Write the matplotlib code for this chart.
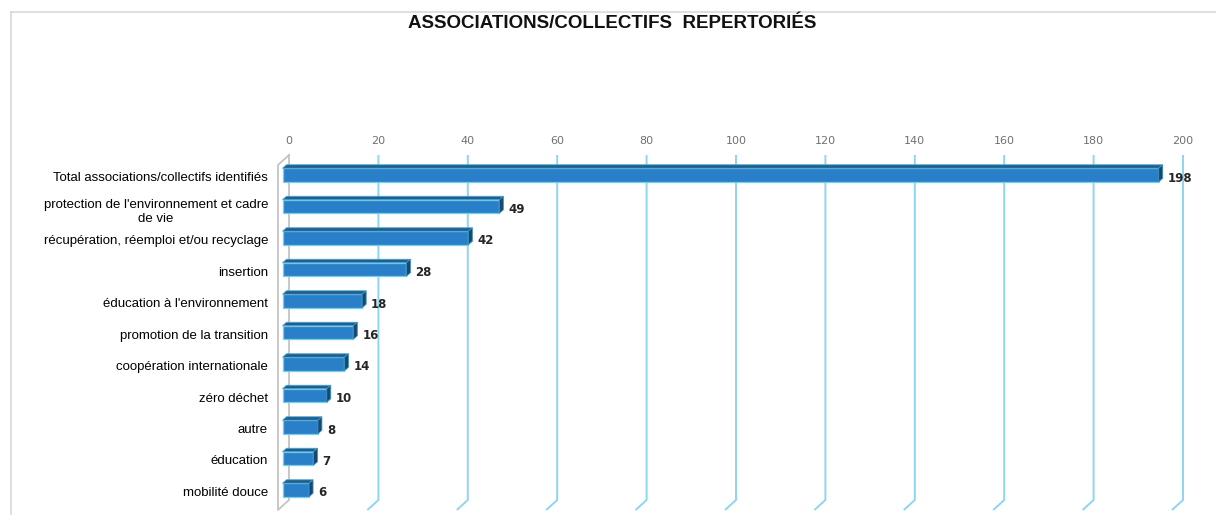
import numpy as np
import matplotlib
matplotlib.use('Agg')
import matplotlib.pyplot as plt
from matplotlib.patches import Polygon
from matplotlib.lines import Line2D

categories = [
    'Total associations/collectifs identifiés',
    "protection de l'environnement et cadre\nde vie",
    'récupération, réemploi et/ou recyclage',
    'insertion',
    "éducation à l'environnement",
    'promotion de la transition',
    'coopération internationale',
    'zéro déchet',
    'autre',
    'éducation',
    'mobilité douce',
]
values = [198, 49, 42, 28, 18, 16, 14, 10, 8, 7, 6]
ticks = np.arange(0, 201, 20)
title = 'ASSOCIATIONS/COLLECTIFS  REPERTORIÉS'

W, H = 1216, 515
PX = 4.47      # pixels per unit on the back plane
X0 = 289       # pixel x of value 0

def px(d):
    return d / PX

fig = plt.figure(figsize=(W / 100, H / 100), dpi=100)
ax = fig.add_axes([0, 0, 1, 1])
ax.set_xlim(-X0 / PX, (W - X0) / PX)
ax.set_ylim(H, 0)
ax.axis('off')

# chart border (top / left)
fig.add_artist(Line2D([11 / W, 1], [1 - 12 / H, 1 - 12 / H],
                      transform=fig.transFigure, color='#d9d9d9', lw=1.2))
fig.add_artist(Line2D([11 / W, 11 / W], [1 - 12 / H, 0],
                      transform=fig.transFigure, color='#d9d9d9', lw=1.2))

fig.text(612.5 / W, 1 - 24 / H, title, ha='center', va='center',
         fontsize=13.5, fontweight='bold', family='Liberation Sans',
         color='#111111')

# back gridlines with a small floor kink
grid_top, grid_bot, depth_x, depth_y = 155, 500, -11, 10
for t in ticks[1:]:
    ax.plot([t, t, t + px(depth_x)], [grid_top, grid_bot, grid_bot + depth_y],
            color='#8dd5f0', lw=1.4, solid_capstyle='butt')
for t in ticks:
    ax.text(t, 141, str(t), ha='center', va='center', fontsize=8,
            color='#707070', family='DejaVu Sans')

# left wall
ax.plot([0, 0, px(depth_x), px(depth_x), 0],
        [grid_top, grid_bot, grid_bot + depth_y, grid_top + depth_y, grid_top],
        color='#c4c4c4', lw=1.3)

# bars (pseudo-3D)
yc = 175 + 31.5 * np.arange(len(values))
h = 13.5
left = px(-6.5)
k = 0.99
widths = np.array(values) * k
ax.barh(yc, widths, left=left, height=h, color='#2a80c8',
        edgecolor='#73cfeb', lw=0.9, zorder=3)
ddx, ddy = px(4), -3.5
for y, w, v in zip(yc, widths, values):
    top = y - h / 2
    bot = y + h / 2
    right = left + w
    ax.add_patch(Polygon([(left, top), (left + ddx, top + ddy),
                          (right + ddx, top + ddy), (right, top)],
                         closed=True, fc='#1f5e8d', ec='#4fa7d3', lw=0.6,
                         zorder=3))
    ax.add_patch(Polygon([(right, top), (right + ddx, top + ddy),
                          (right + ddx, bot + ddy), (right, bot)],
                         closed=True, fc='#17496f', ec='#3d8fbd', lw=0.6,
                         zorder=3))
    ax.text(right + px(9), y + 3, str(v), ha='left', va='center',
            fontsize=8.5, fontweight='bold', color='#262626',
            family='DejaVu Sans')

for y, cat in zip(yc, categories):
    dy = 5.5 if '\n' in cat else 3
    ax.text(px(268 - X0), y + dy, cat, ha='right', va='center',
            multialignment='center', fontsize=9.5, family='Liberation Sans',
            color='#000000')

fig.savefig('out.png', dpi=100)
